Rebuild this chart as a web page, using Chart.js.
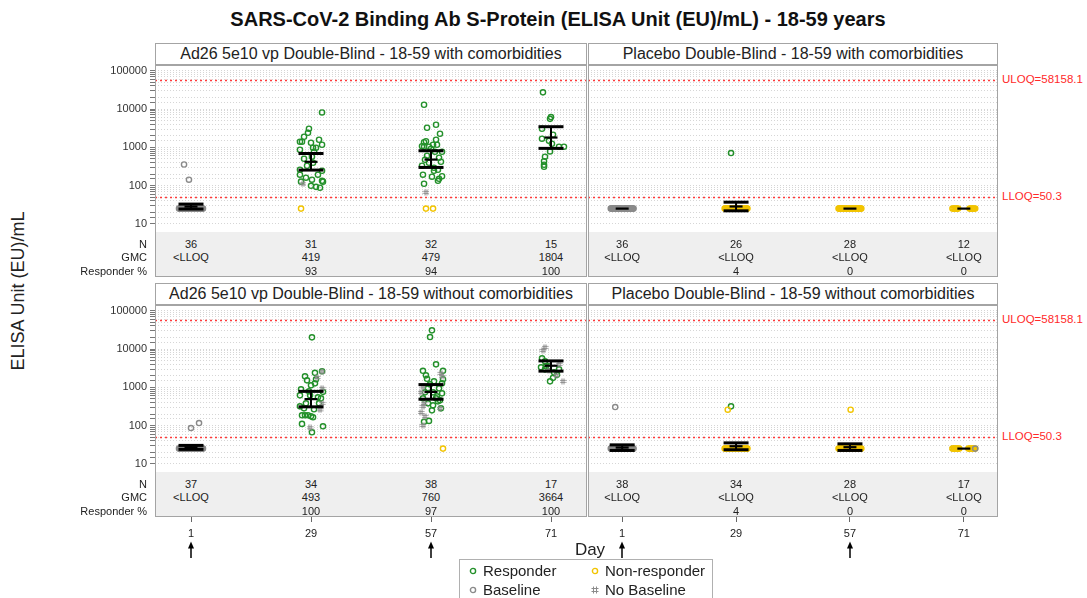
<!DOCTYPE html>
<html><head><meta charset="utf-8">
<script src="https://cdn.jsdelivr.net/npm/chart.js@4"></script>
<style>
body{margin:0;background:#fff;font-family:"Liberation Sans",Arial,sans-serif;}
#wrap{position:relative;width:1087px;height:598px;overflow:hidden;background:#fff;}
canvas{position:absolute;}
.hdr{position:absolute;background:#fff;border:1px solid #a4a4a4;box-sizing:border-box;text-align:center;font-size:16px;color:#222;line-height:20px;white-space:nowrap;}
.frame{position:absolute;border:1px solid #a4a4a4;box-sizing:border-box;pointer-events:none;}
.tbl{position:absolute;background:#efefef;}
.cell{position:absolute;font-size:11px;color:#222;transform:translateX(-50%);white-space:nowrap;line-height:13px;}
.rlab{position:absolute;font-size:11px;color:#222;white-space:nowrap;line-height:13px;text-align:right;width:120px;}
.ref{position:absolute;font-size:11.5px;color:#ff2a2a;white-space:nowrap;line-height:13px;}
#title{position:absolute;left:558px;top:8px;transform:translateX(-50%);font-weight:bold;font-size:20px;color:#111;white-space:nowrap;}
#ytitle{position:absolute;left:18px;top:291px;transform:translate(-50%,-50%) rotate(-90deg);font-size:18px;color:#222;white-space:nowrap;}
#xtitle{position:absolute;left:590px;top:540px;transform:translateX(-50%);font-size:17px;color:#222;}
#legend{position:absolute;left:459px;top:559px;width:254px;height:50px;border:1px solid #b0b0b0;box-sizing:border-box;background:#fff;}
.li{position:absolute;font-size:15px;color:#222;white-space:nowrap;line-height:18px;}
.li svg{vertical-align:middle;margin-right:6px;position:relative;top:-1px;}
</style>
</head><body>
<div id="wrap">
  <div id="title">SARS-CoV-2 Binding Ab S-Protein (ELISA Unit (EU)/mL) - 18-59 years</div>
  <div id="ytitle">ELISA Unit (EU)/mL</div>
  <canvas id="cTL" width="487" height="212" style="left:100px;top:65px;width:487px;height:212px"></canvas>
  <canvas id="cTR" width="410" height="212" style="left:588px;top:65px;width:410px;height:212px"></canvas>
  <canvas id="cBL" width="487" height="257" style="left:100px;top:305px;width:487px;height:257px"></canvas>
  <canvas id="cBR" width="410" height="257" style="left:588px;top:305px;width:410px;height:257px"></canvas>
  <div id="xtitle">Day</div>
  <div id="legend"></div>
</div>
<script>
// ---------------- data ----------------
const DAYS = ['1', '29', '57', '71'];
const DOSE_DAYS = ['1', '57'];
const ROW_LABELS = ['N', 'GMC', 'Responder %'];
const ULOQ = 58158.1;
const LLOQ = 50.3;
const BELOW_LLOQ = 25.15;          // values < LLOQ plotted at LLOQ/2
const Y_DECADES = [10, 100, 1000, 10000, 100000];
const LEGEND_ITEMS = ['Responder', 'Non-responder', 'Baseline', 'No Baseline'];
// horizontal jitter (category units) of the points stacked at LLOQ/2
const LLOQ_JIT = [-0.10, 0.10, -0.09, 0.09, -0.08, 0.08, -0.07, 0.07, -0.06, 0.06, -0.05, 0.05,
  -0.04, 0.04, -0.03, 0.03, -0.02, 0.02, -0.01, 0.01, 0.00, -0.095, 0.095, -0.085, 0.085,
  -0.075, 0.075, -0.065, 0.065, -0.055, 0.055, -0.045, 0.045, -0.035, 0.035, -0.025, 0.025, -0.015];

// ---- Ad26, with comorbidities ----
const TL_TITLE = 'Ad26 5e10 vp Double-Blind - 18-59 with comorbidities';
const TL_N = ['36', '31', '32', '15'];
const TL_GMC_LABEL = ['<LLOQ', '419', '479', '1804'];
const TL_RESP_PCT = ['', '93', '94', '100'];
const TL_GMC = [28.4, 419, 479, 1804];
const TL_CI_LO = [24.5, 255, 299, 940];
const TL_CI_HI = [33, 690, 815, 3460];
const TL_LLOQ_BASELINE = [34, 0, 0, 0];
const TL_LLOQ_NONRESP = [0, 0, 0, 0];
// points: [jitter, EU/mL]
const TL_BASELINE = [[[-0.058, 357], [-0.017, 143]], [], [], []];
const TL_NOBASE = [[], [[-0.067, 112]], [[-0.042, 67]], []];
const TL_NONRESP = [[], [[-0.083, 25.15]], [[-0.042, 25.15], [0.017, 25.15]], []];
const TL_D29_RESP = [[0.092, 8150], [-0.017, 3060], [-0.025, 2400], [-0.058, 1890], [-0.092, 1400],
  [-0.075, 1400], [0, 1320], [0.092, 1170], [0.017, 977], [0.042, 977], [-0.092, 865], [0.008, 569],
  [-0.058, 503], [0.017, 396], [-0.092, 260], [0.092, 245], [-0.092, 193], [-0.042, 161], [0.008, 143],
  [0.092, 134], [0.1, 127], [0, 99], [0.042, 93], [0.075, 88], [0.025, 767], [-0.033, 331],
  [0.058, 193], [-0.083, 127], [0.067, 1580]];
const TL_D57_RESP = [[-0.058, 12940], [-0.033, 3250], [0.042, 3890], [0.075, 2265], [-0.058, 1360],
  [-0.042, 1443], [0.017, 1170], [0.05, 1170], [-0.075, 1070], [-0.058, 1040], [-0.017, 1040],
  [0, 918], [0.033, 767], [0.092, 767], [-0.033, 603], [0.067, 537], [-0.017, 396], [0.025, 293],
  [-0.075, 331], [0.058, 260], [0.025, 245], [-0.067, 193], [0.008, 171], [0.092, 176], [0.067, 151],
  [0.058, 134], [-0.058, 112], [0.083, 421], [-0.05, 474], [0.042, 1580]];
const TL_D71_RESP = [[-0.067, 27300], [0, 6170], [-0.008, 5540], [-0.075, 3060], [0.017, 2140],
  [-0.075, 1680], [-0.017, 1480], [0.008, 1240], [0.067, 1040], [0.108, 1040], [-0.008, 781],
  [-0.05, 569], [-0.058, 434], [-0.058, 351], [-0.058, 311]];
const TL_RESP = [[], TL_D29_RESP, TL_D57_RESP, TL_D71_RESP];

// ---- Placebo, with comorbidities ----
const TR_TITLE = 'Placebo Double-Blind - 18-59 with comorbidities';
const TR_N = ['36', '26', '28', '12'];
const TR_GMC_LABEL = ['<LLOQ', '<LLOQ', '<LLOQ', '<LLOQ'];
const TR_RESP_PCT = ['', '4', '0', '0'];
const TR_GMC = [25.15, 28.6, 25.15, 25.15];
const TR_CI_LO = [null, 22, null, null];
const TR_CI_HI = [null, 37, null, null];
const TR_LLOQ_BASELINE = [36, 0, 0, 0];
const TR_LLOQ_NONRESP = [0, 25, 28, 12];
const TR_BASELINE = [[], [], [], []];
const TR_NOBASE = [[], [], [], []];
const TR_NONRESP = [[], [], [], []];
const TR_RESP = [[], [[-0.044, 710]], [], []];

// ---- Ad26, without comorbidities ----
const BL_TITLE = 'Ad26 5e10 vp Double-Blind - 18-59 without comorbidities';
const BL_N = ['37', '34', '38', '17'];
const BL_GMC_LABEL = ['<LLOQ', '493', '760', '3664'];
const BL_RESP_PCT = ['', '100', '97', '100'];
const BL_GMC = [27.1, 493, 760, 3664];
const BL_CI_LO = [24, 310, 490, 2650];
const BL_CI_HI = [30.5, 785, 1180, 4900];
const BL_LLOQ_BASELINE = [35, 0, 0, 0];
const BL_LLOQ_NONRESP = [0, 0, 0, 0];
const BL_BASELINE = [[[0, 86.5], [0.067, 117]], [], [], []];
const BL_NOBASE = [[],
  [[0.092, 2540], [0.05, 1820], [0.092, 942], [0.092, 382], [0.075, 259], [-0.008, 88]],
  [[0.083, 2320], [0.092, 1940], [-0.067, 1030], [-0.083, 740], [-0.058, 382], [-0.067, 319],
   [0.075, 283], [-0.083, 222], [-0.067, 102], [-0.05, 175]],
  [[-0.05, 11070], [-0.067, 9250], [-0.017, 2780], [0.067, 3980], [0.1, 1435], [0.042, 2055]]];
const BL_NONRESP = [[], [], [[0.1, 25.15]], []];
const BL_D29_RESP = [[0.008, 20200], [-0.05, 1940], [0.033, 2390], [0.092, 2620], [0, 1130],
  [0.033, 1270], [-0.092, 618], [-0.008, 618], [0.1, 763], [-0.042, 382], [0.067, 382], [-0.092, 319],
  [-0.075, 186], [-0.05, 186], [-0.025, 186], [0, 175], [0.017, 165], [-0.075, 111], [0.1, 96],
  [0.008, 67], [-0.033, 1525], [0.042, 1620], [-0.083, 887], [0.058, 548], [-0.058, 283],
  [0.025, 267], [-0.017, 787], [0.083, 516]];
const BL_D57_RESP = [[0.008, 30800], [-0.008, 20560], [0.042, 3980], [-0.067, 2700], [0.1, 2700],
  [0.1, 1620], [-0.033, 1670], [0.025, 1435], [0.067, 942], [-0.025, 942], [-0.05, 740], [0.017, 740],
  [0.05, 582], [0.075, 458], [0.058, 431], [-0.025, 382], [0.017, 339], [0.008, 251], [-0.058, 126],
  [-0.017, 133], [0.092, 1270], [-0.008, 1197], [-0.067, 516], [0.092, 697], [-0.042, 2055],
  [0.042, 516], [0.083, 283]];
const BL_D71_RESP = [[-0.075, 5710], [-0.05, 4770], [-0.083, 3330], [-0.042, 3530], [-0.017, 3530],
  [0.025, 2470], [0.05, 2120], [0.017, 1770], [-0.008, 1435], [-0.05, 2950], [0.067, 2950]];
const BL_RESP = [[], BL_D29_RESP, BL_D57_RESP, BL_D71_RESP];

// ---- Placebo, without comorbidities ----
const BR_TITLE = 'Placebo Double-Blind - 18-59 without comorbidities';
const BR_N = ['38', '34', '28', '17'];
const BR_GMC_LABEL = ['<LLOQ', '<LLOQ', '<LLOQ', '<LLOQ'];
const BR_RESP_PCT = ['', '4', '0', '0'];
const BR_GMC = [26.8, 29.0, 27.4, 25.15];
const BR_CI_LO = [22.5, 23.5, 22.5, null];
const BR_CI_HI = [31.5, 35.5, 33.5, null];
const BR_LLOQ_BASELINE = [37, 0, 0, 0];
const BR_LLOQ_NONRESP = [0, 32, 27, 14];
const BR_BASELINE = [[[-0.061, 306]], [], [], [[0.1, 25.15]]];
const BR_NOBASE = [[], [], [], [[-0.1, 25.15], [-0.085, 25.15]]];
const BR_NONRESP = [[], [[-0.073, 261]], [[0.006, 261]], []];
const BR_RESP = [[], [[-0.044, 319]], [], []];

// ---------------- styling / helpers ----------------
const FONT = '"Liberation Sans", Arial, sans-serif';
const C_RESP = '#23902a', C_NONRESP = '#f2c400', C_BASE = '#8a8a8a', C_NOBASE = '#8c8c8c';
const Y_MAX = Math.pow(10, 5.15);
const Y_MIN = Math.pow(10, 5.15 - 212 / 38.3);
const TABLE_H = 45;

function hashGlyph(color) {
  const c = document.createElement('canvas');
  c.width = 7; c.height = 7;
  const g = c.getContext('2d');
  g.strokeStyle = color; g.lineWidth = 1;
  g.beginPath();
  g.moveTo(2.5, 0.5); g.lineTo(2.5, 6.5); g.moveTo(4.5, 0.5); g.lineTo(4.5, 6.5);
  g.moveTo(0.5, 2.5); g.lineTo(6.5, 2.5); g.moveTo(0.5, 4.5); g.lineTo(6.5, 4.5);
  g.stroke();
  return c;
}
const HASH = hashGlyph(C_NOBASE);

function toPts(groups) {
  const out = [];
  groups.forEach((g, d) => g.forEach(([j, v]) => out.push({x: d + 1 + j, y: v})));
  return out;
}
function clusterPts(counts) {
  const out = [];
  counts.forEach((n, d) => LLOQ_JIT.slice(0, n).forEach(j => out.push({x: d + 1 + j, y: BELOW_LLOQ})));
  return out;
}
function circleDs(label, color, data) {
  return {label, data, pointStyle: 'circle', pointRadius: 2.6, pointBorderWidth: 1.4,
    pointBorderColor: color, pointBackgroundColor: 'rgba(0,0,0,0)', pointHoverRadius: 2.6};
}

const refLinePlugin = {
  id: 'refLines',
  beforeDatasetsDraw(chart) {
    const {ctx, chartArea: a, scales: {y}} = chart;
    ctx.save();
    ctx.strokeStyle = '#ff3b3b'; ctx.lineWidth = 1.3; ctx.setLineDash([2, 3]);
    [ULOQ, LLOQ].forEach(v => {
      const py = Math.round(y.getPixelForValue(v)) + 0.5;
      ctx.beginPath(); ctx.moveTo(a.left, py); ctx.lineTo(a.right, py); ctx.stroke();
    });
    ctx.restore();
  }
};
function gmcPlugin(p) {
  return {
    id: 'gmc',
    afterDatasetsDraw(chart) {
      const {ctx, scales: {x, y}} = chart;
      const seg = (x1, y1, x2, y2) => { ctx.beginPath(); ctx.moveTo(x1, y1); ctx.lineTo(x2, y2); ctx.stroke(); };
      ctx.save(); ctx.strokeStyle = '#000'; ctx.lineCap = 'butt';
      p.gmc.forEach((g, i) => {
        const cx = x.getPixelForValue(i + 1);
        if (p.lo[i] != null) {
          const ly = y.getPixelForValue(p.lo[i]), hy = y.getPixelForValue(p.hi[i]);
          ctx.lineWidth = 2; seg(cx, ly, cx, hy);
          ctx.lineWidth = 3; seg(cx - 12.5, ly, cx + 12.5, ly); seg(cx - 12.5, hy, cx + 12.5, hy);
        }
        const gy = y.getPixelForValue(g);
        ctx.lineWidth = 2.2; seg(cx - 6.5, gy, cx + 6.5, gy);
      });
      ctx.restore();
    }
  };
}

function makeChart(id, p, showY, showX) {
  const datasets = [
    circleDs('Baseline', C_BASE, clusterPts(p.lloqBase).concat(toPts(p.baseline))),
    circleDs('Non-responder', C_NONRESP, clusterPts(p.lloqNonresp).concat(toPts(p.nonresp))),
    {label: 'No Baseline', data: toPts(p.nobase), pointStyle: HASH, pointRadius: 3},
    circleDs('Responder', C_RESP, toPts(p.resp))
  ];
  return new Chart(document.getElementById(id), {
    type: 'scatter',
    data: {datasets},
    options: {
      responsive: false, animation: false, devicePixelRatio: 1,
      layout: {padding: 0, autoPadding: false},
      events: [],
      plugins: {legend: {display: false}, tooltip: {enabled: false}},
      scales: {
        x: {
          type: 'linear', min: 0.7, max: 4.3, bounds: 'data', display: showX,
          afterBuildTicks: s => { s.ticks = DAYS.map((d, i) => ({value: i + 1})); },
          ticks: {callback: v => DAYS[Math.round(v) - 1] ?? '', font: {size: 11, family: FONT},
                  color: '#222', padding: 5, maxRotation: 0, autoSkip: false},
          grid: {drawOnChartArea: false, drawTicks: true, tickLength: 5, color: '#666', tickColor: '#666'},
          border: {display: false},
          afterFit: s => { s.height = showX ? 45 : 0; s.paddingLeft = 0; s.paddingRight = 0; }
        },
        y: {
          type: 'logarithmic', min: Y_MIN, max: Y_MAX,
          afterBuildTicks: s => { s.ticks = s.ticks.filter(t => t.value >= 9.99 && t.value <= 100001); },
          ticks: {display: showY, autoSkip: false, font: {size: 11, family: FONT}, color: '#333', padding: 3,
                  callback: v => { const l = Math.log10(v); return Math.abs(l - Math.round(l)) < 1e-6 ? String(Math.round(v)) : ''; }},
          grid: {color: '#d6d6d6', lineWidth: 1, drawTicks: showY, tickLength: 5, tickColor: '#777', tickBorderDash: []},
          border: {display: false, dash: [1, 2]},
          afterFit: s => { s.width = showY ? 55 : 0; s.paddingTop = 0; s.paddingBottom = 0; }
        }
      }
    },
    plugins: [refLinePlugin, gmcPlugin(p)]
  });
}

const wrap = document.getElementById('wrap');
function mk(cls, style, text) {
  const d = document.createElement('div');
  d.className = cls;
  Object.entries(style).forEach(([k, v]) => d.style[k] = (typeof v === 'number') ? v + 'px' : v);
  if (text != null) d.textContent = text;
  wrap.appendChild(d);
  return d;
}

function decorate(chart, p, canvasLeft, canvasTop, isLeft, isRight, isBottom) {
  const a = chart.chartArea, xs = chart.scales.x, ys = chart.scales.y;
  const L = canvasLeft + a.left, T = canvasTop + a.top, W = a.right - a.left, H = a.bottom - a.top;
  mk('hdr', {left: L, top: T - 22, width: W, height: 22}, p.title);
  const tTop = T + H - TABLE_H;
  mk('tbl', {left: L, top: tTop, width: W, height: TABLE_H});
  [p.n, p.gmcLabel, p.respPct].forEach((row, r) => row.forEach((txt, i) => {
    mk('cell', {left: canvasLeft + xs.getPixelForValue(i + 1), top: tTop + 5.5 + r * 13.5}, txt);
  }));
  if (isLeft) ROW_LABELS.forEach((t, r) => mk('rlab', {left: L - 128, top: tTop + 5.5 + r * 13.5}, t));
  mk('frame', {left: L, top: T, width: W, height: H});
  if (isRight) {
    mk('ref', {left: L + W + 4, top: canvasTop + ys.getPixelForValue(ULOQ) - 7}, 'ULOQ=' + ULOQ);
    mk('ref', {left: L + W + 4, top: canvasTop + ys.getPixelForValue(LLOQ) - 7}, 'LLOQ=' + LLOQ);
  }
  if (isBottom) {
    const ns = 'http://www.w3.org/2000/svg';
    DOSE_DAYS.forEach(d => {
      const cx = canvasLeft + xs.getPixelForValue(DAYS.indexOf(d) + 1);
      const svg = document.createElementNS(ns, 'svg');
      svg.setAttribute('width', 10); svg.setAttribute('height', 18);
      svg.style.position = 'absolute'; svg.style.left = (cx - 5) + 'px'; svg.style.top = (T + H + 24) + 'px';
      svg.innerHTML = '<line x1="5" y1="5" x2="5" y2="17" stroke="#000" stroke-width="1.5"/>' +
        '<polygon points="2,7.5 5,0.5 8,7.5" fill="#000"/>';
      wrap.appendChild(svg);
    });
  }
}

const PANELS = [
  {id: 'cTL', left: 100, top: 65, showY: true, showX: false, isRight: false,
   title: TL_TITLE, n: TL_N, gmcLabel: TL_GMC_LABEL, respPct: TL_RESP_PCT, gmc: TL_GMC, lo: TL_CI_LO, hi: TL_CI_HI,
   lloqBase: TL_LLOQ_BASELINE, lloqNonresp: TL_LLOQ_NONRESP, baseline: TL_BASELINE, nobase: TL_NOBASE, nonresp: TL_NONRESP, resp: TL_RESP},
  {id: 'cTR', left: 588, top: 65, showY: false, showX: false, isRight: true,
   title: TR_TITLE, n: TR_N, gmcLabel: TR_GMC_LABEL, respPct: TR_RESP_PCT, gmc: TR_GMC, lo: TR_CI_LO, hi: TR_CI_HI,
   lloqBase: TR_LLOQ_BASELINE, lloqNonresp: TR_LLOQ_NONRESP, baseline: TR_BASELINE, nobase: TR_NOBASE, nonresp: TR_NONRESP, resp: TR_RESP},
  {id: 'cBL', left: 100, top: 305, showY: true, showX: true, isRight: false,
   title: BL_TITLE, n: BL_N, gmcLabel: BL_GMC_LABEL, respPct: BL_RESP_PCT, gmc: BL_GMC, lo: BL_CI_LO, hi: BL_CI_HI,
   lloqBase: BL_LLOQ_BASELINE, lloqNonresp: BL_LLOQ_NONRESP, baseline: BL_BASELINE, nobase: BL_NOBASE, nonresp: BL_NONRESP, resp: BL_RESP},
  {id: 'cBR', left: 588, top: 305, showY: false, showX: true, isRight: true,
   title: BR_TITLE, n: BR_N, gmcLabel: BR_GMC_LABEL, respPct: BR_RESP_PCT, gmc: BR_GMC, lo: BR_CI_LO, hi: BR_CI_HI,
   lloqBase: BR_LLOQ_BASELINE, lloqNonresp: BR_LLOQ_NONRESP, baseline: BR_BASELINE, nobase: BR_NOBASE, nonresp: BR_NONRESP, resp: BR_RESP}
];
PANELS.forEach(p => {
  const ch = makeChart(p.id, p, p.showY, p.showX);
  decorate(ch, p, p.left, p.top, p.showY, p.isRight, p.showX);
});

// legend
const lg = document.getElementById('legend');
const LEG_STYLE = {
  'Responder': '<svg width="8" height="8"><circle cx="4" cy="4" r="2.6" fill="none" stroke="' + C_RESP + '" stroke-width="1.4"/></svg>',
  'Non-responder': '<svg width="8" height="8"><circle cx="4" cy="4" r="2.6" fill="none" stroke="' + C_NONRESP + '" stroke-width="1.4"/></svg>',
  'Baseline': '<svg width="8" height="8"><circle cx="4" cy="4" r="2.6" fill="none" stroke="' + C_BASE + '" stroke-width="1.4"/></svg>',
  'No Baseline': '<svg width="8" height="8"><path d="M2.5 0.5V7.5M5.5 0.5V7.5M0.5 2.5H7.5M0.5 5.5H7.5" stroke="' + C_NOBASE + '" stroke-width="1"/></svg>'
};
LEGEND_ITEMS.forEach((t, i) => {
  const d = document.createElement('div');
  d.className = 'li';
  d.style.left = (i % 2 === 0 ? 9 : 131) + 'px';
  d.style.top = (i < 2 ? 2 : 21) + 'px';
  d.innerHTML = LEG_STYLE[t];
  d.appendChild(document.createTextNode(t));
  lg.appendChild(d);
});
</script>
</body></html>
